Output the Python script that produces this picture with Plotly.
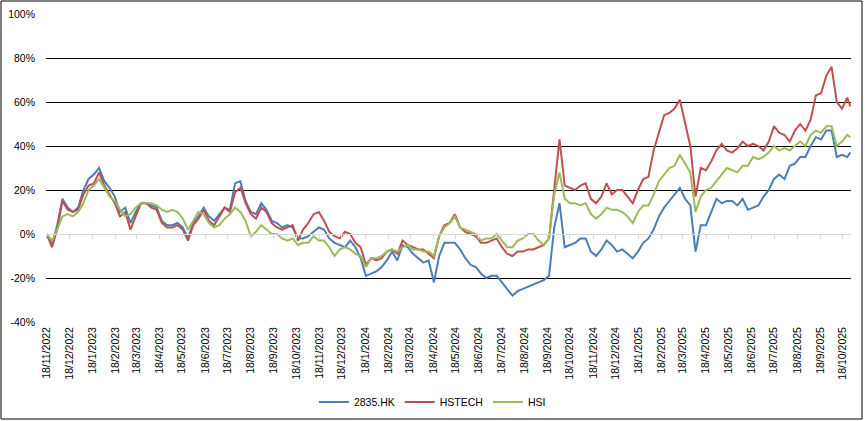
import datetime as dt
import plotly.graph_objects as go

# ---- data (cumulative return, %) sampled weekly from 18/11/2022 ----
start = dt.date(2022, 11, 18)
n_weeks = 154
dates = [start + dt.timedelta(days=7 * k) for k in range(n_weeks)] + [dt.date(2025, 10, 28)]

hk2835 = [0, -5, 4, 16, 12, 10, 12, 20, 25, 27,
          30, 24, 21, 17, 10, 12, 5, 10, 14, 14,
          13, 12, 6, 4, 4, 5, 3, -2, 5, 8,
          12, 8, 6, 9, 12, 11, 23, 24, 15, 10,
          9, 14, 11, 6, 5, 3, 4, 3, -2, -2,
          -1, 1, 3, 2, -2, -4, -5, -6, -3, -6,
          -11, -19, -18, -17, -15, -12, -8, -12, -5, -6,
          -9, -11, -13, -12, -22, -10, -4, -4, -4, -7,
          -11, -14, -15, -18, -20, -19, -19, -22, -25, -28,
          -26, -25, -24, -23, -22, -21, -19, 3, 14, -6,
          -5, -4, -2, -2, -8, -10, -7, -3, -5, -8,
          -7, -9, -11, -8, -4, -2, 2, 8, 12, 15,
          18, 21, 16, 13, -8, 4, 4, 10, 16, 14,
          15, 15, 13, 16, 11, 12, 13, 17, 20, 25,
          27, 25, 31, 32, 35, 35, 40, 44, 43, 47,
          47, 35, 36, 35, 37]

hstech = [0, -6, 2, 15, 11, 10, 11, 18, 22, 23,
          28, 22, 18, 14, 8, 10, 2, 8, 14, 14,
          12, 11, 5, 3, 3, 4, 2, -3, 4, 7,
          11, 6, 4, 8, 12, 10, 19, 21, 14, 9,
          7, 12, 10, 5, 3, 2, 3, 4, -3, 2,
          5, 9, 10, 6, 1, -1, -2, 1, 0, -4,
          -6, -14, -11, -12, -11, -8, -7, -9, -3, -5,
          -6, -7, -7, -9, -11, -1, 4, 5, 9, 3,
          1, 0, -1, -4, -4, -3, -2, -6, -9, -10,
          -8, -8, -7, -7, -6, -5, -2, 22, 43, 22,
          21, 20, 22, 23, 16, 14, 17, 23, 18, 20,
          20, 17, 14, 20, 25, 26, 38, 46, 54, 55,
          57, 61, 50, 40, 17, 30, 29, 33, 38, 41,
          38, 37, 39, 42, 40, 41, 40, 38, 42, 49,
          46, 45, 42, 47, 50, 47, 52, 63, 64, 72,
          76, 60, 57, 62, 58]

hsi = [0, -3, 2, 8, 9, 8, 10, 14, 20, 22,
       25, 21, 17, 15, 11, 8, 9, 12, 14, 14,
       14, 13, 11, 10, 11, 10, 7, 2, 6, 10,
       9, 5, 3, 4, 7, 9, 12, 10, 6, -1,
       1, 4, 2, 0, 0, -2, -3, -2, -5, -4,
       -4, -1, -3, -3, -6, -10, -7, -6, -7, -9,
       -10, -15, -11, -11, -10, -8, -7, -8, -6, -5,
       -7, -7, -8, -8, -10, -1, 3, 5, 8, 3,
       2, 1, 0, -3, -2, -2, 0, -3, -6, -6,
       -3, -2, 0, 0, -3, -5, -2, 18, 28, 16,
       14, 14, 13, 14, 9, 7, 9, 12, 11, 11,
       10, 8, 5, 10, 13, 13, 18, 24, 27, 30,
       31, 36, 32, 28, 10, 17, 20, 21, 24, 27,
       30, 29, 28, 31, 31, 35, 34, 35, 37, 40,
       38, 39, 38, 40, 42, 40, 45, 47, 46, 49,
       49, 40, 42, 45, 44]

series_names = ["2835.HK", "HSTECH", "HSI"]
series_values = [hk2835, hstech, hsi]
series_colors = ["#4A7EBB", "#C0504D", "#9BBB59"]

# monthly tick dates (18th of each month)
tick_dates = []
y, m = 2022, 11
while (y, m) <= (2025, 10):
    tick_dates.append(dt.date(y, m, 18))
    m += 1
    if m > 12:
        m = 1
        y += 1
tick_labels = [f"{d.day}/{d.month}/{d.year}" for d in tick_dates]

y_ticks = [-40, -20, 0, 20, 40, 60, 80, 100]
y_labels = [f"{v}%" for v in y_ticks]

FONT = "Liberation Sans, Arial, sans-serif"

fig = go.Figure()
for name, vals, col in zip(series_names, series_values, series_colors):
    fig.add_trace(go.Scatter(x=dates, y=vals, mode="lines", name=name,
                             line=dict(color=col, width=2)))

# helper trace on overlaid axis providing the 0% axis line with tick marks
fig.add_trace(go.Scatter(x=[dates[0]], y=[0], xaxis="x2", mode="markers",
                         marker=dict(opacity=0), showlegend=False, hoverinfo="skip"))

x_range = ["2022-11-17", "2025-10-29"]

fig.update_layout(
    width=865, height=421,
    margin=dict(l=46, r=14, t=14, b=99, autoexpand=False),
    paper_bgcolor="white", plot_bgcolor="white",
    font=dict(family=FONT, size=10.5, color="#000000"),
    showlegend=True,
    legend=dict(orientation="h", x=0.48, xanchor="center", y=-0.26, yanchor="middle",
                font=dict(size=10.5), itemwidth=30, traceorder="normal"),
    xaxis=dict(type="date", range=x_range, tickvals=tick_dates, ticktext=tick_labels,
               tickangle=-90, showgrid=False, zeroline=False, showline=False,
               ticks="", ticklabelstandoff=2, tickfont=dict(size=10.5), automargin=False),
    xaxis2=dict(type="date", range=x_range, overlaying="x", anchor="free",
                position=40 / 140, tickvals=tick_dates, showticklabels=False,
                showline=True, linecolor="#D9D9D9", linewidth=1.3,
                ticks="outside", ticklen=4, tickcolor="#D9D9D9", tickwidth=1,
                showgrid=False, zeroline=False, automargin=False),
    yaxis=dict(range=[-40, 100], tickvals=y_ticks, ticktext=y_labels,
               showgrid=True, gridcolor="#000000", gridwidth=1.3,
               zeroline=False, showline=False, ticks="",
               ticklabelstandoff=10, tickfont=dict(size=10.5), automargin=False),
    shapes=[dict(type="rect", xref="paper", yref="paper",
                 x0=-45 / 805, x1=816 / 805, y0=-97 / 308, y1=321 / 308,
                 line=dict(color="#000000", width=1), fillcolor="rgba(0,0,0,0)",
                 layer="below")],
)

fig.write_html("out.html", config={"displayModeBar": False},
               post_script="document.body.style.margin='0';document.body.style.overflow='hidden';")
